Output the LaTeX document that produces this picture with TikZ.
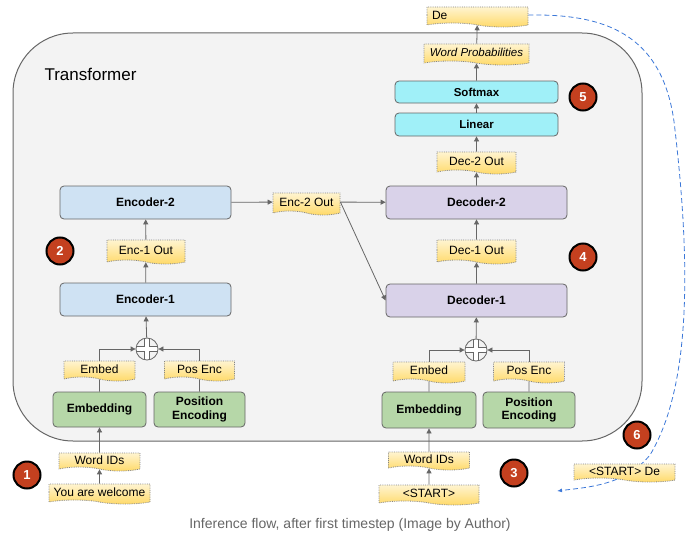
\documentclass[tikz,border=0pt]{standalone}
\usepackage{fontspec}
\setmainfont{Liberation Sans}
\usetikzlibrary{shapes.symbols,arrows.meta}
\definecolor{encblue}{HTML}{CFE2F3}
\definecolor{decpurple}{HTML}{D9D2E9}
\definecolor{cyanbox}{HTML}{A0F0F8}
\definecolor{greenbox}{HTML}{B6D7A8}
\definecolor{boxline}{HTML}{666666}
\definecolor{bgfill}{HTML}{F3F3F3}
\definecolor{badgered}{HTML}{C4401F}
\definecolor{tapetop}{HTML}{FFF4D0}
\definecolor{tapebot}{HTML}{FFD966}
\definecolor{flowblue}{HTML}{3C78D8}
\definecolor{captiongray}{HTML}{666666}
\tikzset{
  blk/.style={draw=boxline, line width=0.8pt, rounded corners=4pt, font=\fontsize{12}{14}\selectfont\bfseries, align=center, inner sep=0pt},
  tapebox/.style={shape=tape, draw=boxline!80, densely dotted, line width=0.8pt, top color=tapetop, bottom color=tapebot, tape bend top=none, tape bend bottom=out and in, tape bend height=4pt, font=\fontsize{12}{14}\selectfont, inner sep=0pt},
  badge/.style={circle, draw=black, line width=2pt, fill=badgered, text=white, font=\fontsize{13}{15}\selectfont\bfseries, minimum size=27pt, inner sep=0pt},
  conn/.style={draw=boxline, line width=0.8pt, -{Triangle[length=5pt,width=5pt]}},
  plain/.style={draw=boxline, line width=0.8pt},
  plusnode/.style={circle, draw=boxline, line width=0.8pt, fill=bgfill, minimum size=22pt, inner sep=0pt,
    path picture={
      \draw[boxline, line width=5.5pt] (path picture bounding box.north) -- (path picture bounding box.south)
        (path picture bounding box.west) -- (path picture bounding box.east);
      \draw[white, line width=3.5pt] (path picture bounding box.north) -- (path picture bounding box.south)
        (path picture bounding box.west) -- (path picture bounding box.east);}}
}
\begin{document}
\begin{tikzpicture}[x=1pt,y=-1pt]
\useasboundingbox (0,0) rectangle (698,543);
% Transformer container
\draw[boxline, line width=1pt, fill=bgfill, rounded corners=60pt] (13,33) rectangle (642,441);
\node[anchor=west, font=\fontsize{17}{20}\selectfont] (title) at (41,74) {Transformer};

% ---------- Encoder side ----------
\node[blk, fill=encblue, minimum width=171pt, minimum height=33pt] (enc2) at (145.5,202.5) {Encoder-2};
\node[tapebox, minimum width=67pt, minimum height=22pt] (e2o) at (306.5,202) {Enc-2 Out};
\node[tapebox, minimum width=78pt, minimum height=24pt] (e1o) at (146,250) {Enc-1 Out};
\node[blk, fill=encblue, minimum width=171pt, minimum height=33pt] (enc1) at (145.5,299.5) {Encoder-1};
\node[plusnode] (pe) at (147,349) {};
\node[tapebox, minimum width=71pt, minimum height=20pt] (embt) at (99.5,369) {Embed};
\node[tapebox, minimum width=70pt, minimum height=20pt] (post) at (199.5,369) {Pos Enc};
\node[blk, fill=greenbox, minimum width=93pt, minimum height=35pt] (emb) at (99.5,409.5) {Embedding};
\node[blk, fill=greenbox, minimum width=91pt, minimum height=35pt, font=\fontsize{12}{13.5}\selectfont\bfseries] (pos) at (199.5,409.5) {Position\\Encoding};
\node[tapebox, minimum width=81pt, minimum height=18pt] (wid) at (99.5,460) {Word IDs};
\node[tapebox, minimum width=101pt, minimum height=20pt] (ywe) at (99.5,492) {You are welcome};
\node[badge] (b1) at (27,475) {1};
\node[badge] (b2) at (60,251) {2};

\draw[conn] (ywe) -- (wid);
\draw[conn] (wid) -- (emb);
\draw[plain] (emb) -- (embt);
\draw[plain] (pos) -- (post);
\draw[conn] (embt.north) |- (pe.west);
\draw[conn] (post.north) |- (pe.east);
\draw[conn] (pe) -- (enc1);
\draw[conn] (enc1) -- (e1o);
\draw[conn] (e1o) -- (enc2);
\draw[conn] (enc2) -- (e2o);

% ---------- Decoder side ----------
\node[blk, fill=decpurple, minimum width=181pt, minimum height=33pt] (dec2) at (476.5,202.5) {Decoder-2};
\node[tapebox, minimum width=79pt, minimum height=22pt] (d2o) at (476.5,161) {Dec-2 Out};
\node[blk, fill=cyanbox, minimum width=163pt, minimum height=23pt, font=\fontsize{11.5}{13}\selectfont\bfseries] (lin) at (476.5,124.5) {Linear};
\node[blk, fill=cyanbox, minimum width=163pt, minimum height=22pt, font=\fontsize{11.5}{13}\selectfont\bfseries] (soft) at (476.5,92) {Softmax};
\node[tapebox, minimum width=105pt, minimum height=21pt, font=\fontsize{11.5}{13}\selectfont\itshape] (wp) at (476.5,52.5) {Word Probabilities};
\node[tapebox, text width=91pt, inner xsep=5pt, minimum height=20pt, align=left] (de) at (477.5,15) {De};
\node[tapebox, minimum width=79pt, minimum height=24pt] (d1o) at (476.5,250) {Dec-1 Out};
\node[blk, fill=decpurple, minimum width=181pt, minimum height=33pt] (dec1) at (476.5,300.5) {Decoder-1};
\node[plusnode] (pd) at (476,350) {};
\node[tapebox, minimum width=72pt, minimum height=21pt] (embtd) at (429,370.5) {Embed};
\node[tapebox, minimum width=71pt, minimum height=21pt] (postd) at (529,370.5) {Pos Enc};
\node[blk, fill=greenbox, minimum width=94pt, minimum height=36pt] (embd) at (429,410) {Embedding};
\node[blk, fill=greenbox, minimum width=92pt, minimum height=36pt, font=\fontsize{12}{13.5}\selectfont\bfseries] (posd) at (529,410) {Position\\Encoding};
\node[tapebox, minimum width=81pt, minimum height=18pt] (widd) at (429,459) {Word IDs};
\node[tapebox, minimum width=100pt, minimum height=20pt] (start) at (429,493) {<START>};
\node[badge] (b3) at (514,473) {3};
\node[badge] (b4) at (583,257) {4};
\node[badge] (b5) at (583,97) {5};
\node[badge] (b6) at (637,435) {6};

\draw[conn] (start) -- (widd);
\draw[conn] (widd) -- (embd);
\draw[plain] (embd) -- (embtd);
\draw[plain] (posd) -- (postd);
\draw[conn] (embtd.north) |- (pd.west);
\draw[conn] (postd.north) |- (pd.east);
\draw[conn] (pd) -- (dec1);
\draw[conn] (dec1) -- (d1o);
\draw[conn] (d1o) -- (dec2);
\draw[conn] (dec2) -- (d2o);
\draw[conn] (d2o) -- (lin);
\draw[conn] (lin) -- (soft);
\draw[conn] (soft) -- (wp);
\draw[conn] (wp) -- (de);

\draw[conn] (e2o) -- (dec2);
\draw[conn] (e2o.east) -- (dec1.west);

% feedback loop
\coordinate (fbend) at (557,491);
\draw[flowblue, line width=0.8pt, dash pattern=on 5pt off 3pt, -{Latex[length=5pt,width=4pt]}]
  (de.east) .. controls (600,14) and (665,30) .. (675,130)
  .. controls (690,260) and (692,385) .. (650,455)
  .. controls (625,485) and (590,487) .. (fbend);
\node[tapebox, minimum width=101pt, minimum height=18pt] (sde) at (624.5,471) {<START> De};

% caption
\node[text=captiongray, font=\fontsize{14}{16}\selectfont] (cap) at (350,525) {Inference flow, after first timestep (Image by Author)};
\end{tikzpicture}
\end{document}
